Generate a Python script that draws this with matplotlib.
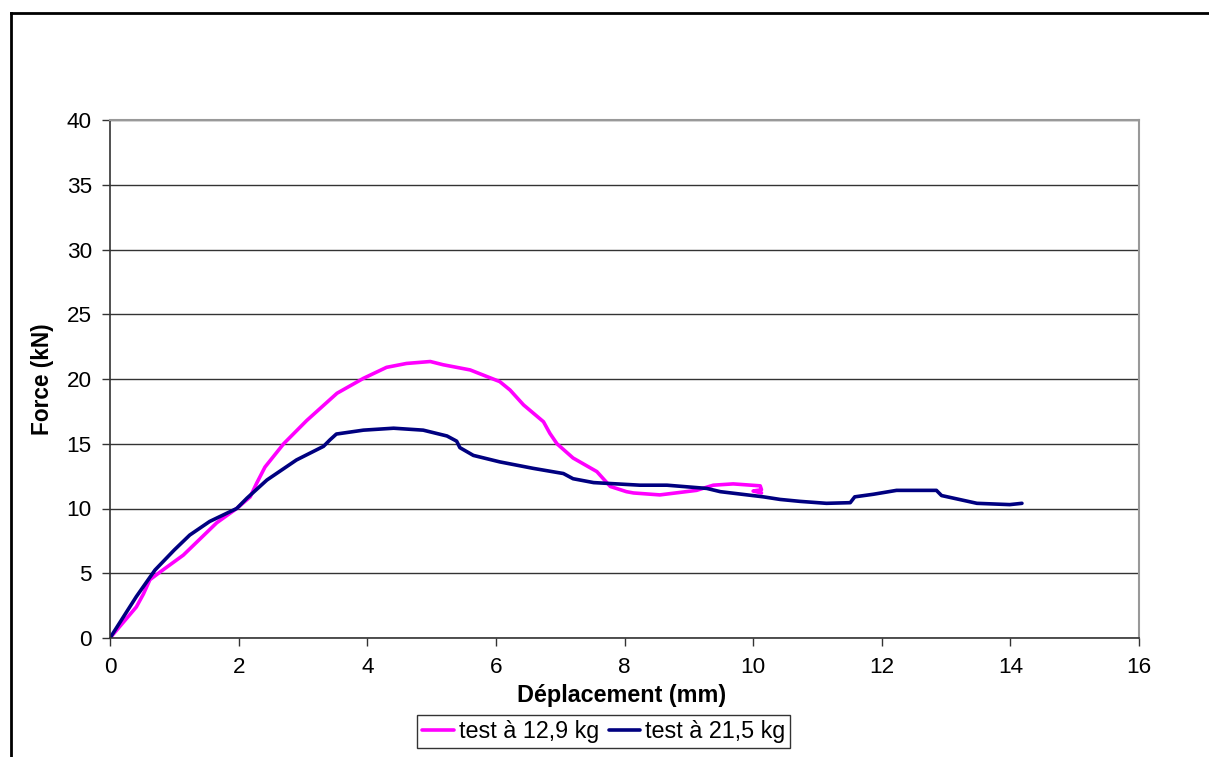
import matplotlib
matplotlib.use("Agg")
import matplotlib.pyplot as plt
from matplotlib.lines import Line2D

plt.rcParams['font.family'] = ['Liberation Sans', 'DejaVu Sans']

# Series: test à 12,9 kg
x_129 = [0.0, 0.41, 0.52, 0.62, 0.78, 1.14, 1.66, 1.97, 2.18, 2.28, 2.41, 2.70, 3.06, 3.53,
         3.94, 4.30, 4.61, 4.98, 5.18, 5.60, 6.06, 6.22, 6.43, 6.74, 6.84, 6.95, 7.20, 7.57,
         7.67, 7.78, 8.03, 8.14, 8.55, 9.12, 9.38, 9.69, 10.11, 10.13, 10.00, 10.13]
y_129 = [0.0, 2.4, 3.4, 4.5, 5.1, 6.4, 8.9, 10.0, 10.9, 11.95, 13.2, 15.0, 16.8, 18.9,
         20.05, 20.9, 21.2, 21.35, 21.1, 20.7, 19.8, 19.15, 18.0, 16.7, 15.8, 15.0, 13.9, 12.85,
         12.3, 11.7, 11.3, 11.2, 11.05, 11.4, 11.8, 11.9, 11.75, 11.45, 11.35, 11.2]

# Series: test à 21,5 kg
x_215 = [0.0, 0.41, 0.70, 1.00, 1.24, 1.55, 1.97, 2.13, 2.44, 2.90, 3.32, 3.42, 3.52, 3.94,
         4.41, 4.87, 5.24, 5.39, 5.44, 5.65, 6.06, 6.58, 7.05, 7.20, 7.52, 8.24, 8.66, 9.28,
         9.49, 10.16, 10.42, 10.73, 11.14, 11.51, 11.58, 11.87, 12.23, 12.85, 12.93, 13.48,
         13.99, 14.18]
y_215 = [0.0, 3.2, 5.25, 6.8, 7.95, 9.0, 10.0, 10.8, 12.2, 13.75, 14.8, 15.3, 15.75, 16.05,
         16.2, 16.05, 15.6, 15.2, 14.7, 14.1, 13.6, 13.1, 12.7, 12.3, 12.0, 11.8, 11.8, 11.55,
         11.3, 10.9, 10.7, 10.55, 10.4, 10.45, 10.9, 11.1, 11.4, 11.4, 11.0, 10.4,
         10.3, 10.4]

labels = ['test à 12,9 kg', 'test à 21,5 kg']
x_ticks = [0, 2, 4, 6, 8, 10, 12, 14, 16]
y_ticks = [0, 5, 10, 15, 20, 25, 30, 35, 40]

W, H = 1209, 757
fig = plt.figure(figsize=(W / 100, H / 100), dpi=100)
ax = fig.add_axes([110 / W, 1 - 638 / H, (1139 - 110) / W, (638 - 120) / H])

ax.plot(x_129, y_129, color='#FF00FF', lw=2.6, label=labels[0],
        solid_capstyle='round', solid_joinstyle='round')
ax.plot(x_215, y_215, color='#000080', lw=2.6, label=labels[1],
        solid_capstyle='round', solid_joinstyle='round')

ax.set_xlim(0, 16)
ax.set_ylim(0, 40)
ax.set_xticks(x_ticks)
ax.set_yticks(y_ticks)
ax.yaxis.grid(True, color='#333333', lw=1.0)
ax.set_axisbelow(True)
ax.tick_params(axis='both', direction='out', length=6, width=1, color='#333333',
               labelsize=16.2)
ax.tick_params(axis='x', pad=8)
ax.tick_params(axis='y', pad=7)
for s in ['top', 'right']:
    ax.spines[s].set_color('#999999')
    ax.spines[s].set_linewidth(1.5)
for s in ['left', 'bottom']:
    ax.spines[s].set_color('#333333')
    ax.spines[s].set_linewidth(1.2)

ax.set_xlabel('Déplacement (mm)', fontsize=16.8, fontweight='bold')
ax.xaxis.set_label_coords((622 - 110) / 1029, -(684 - 638) / 518)
ax.set_ylabel('Force (kN)', fontsize=16.3, fontweight='bold')
ax.yaxis.set_label_coords(-(110 - 54) / 1029, 0.5)

leg = ax.legend(loc='upper left', bbox_to_anchor=(417 / W, 1 - 715 / H),
                bbox_transform=fig.transFigure, ncol=2, fontsize=16.8,
                frameon=True, fancybox=False, edgecolor='black', borderpad=0.22,
                handlelength=1.36, handletextpad=0.2, columnspacing=0.42, borderaxespad=0)
leg.get_frame().set_linewidth(1.0)
for h in leg.get_lines():
    h.set_linewidth(2.6)

# outer chart border (left & top visible)
fig.add_artist(Line2D([11 / W, 11 / W], [0, 1 - 13 / H], transform=fig.transFigure,
                      color='black', lw=2))
fig.add_artist(Line2D([11 / W, 1], [1 - 13 / H, 1 - 13 / H], transform=fig.transFigure,
                      color='black', lw=2))

fig.savefig('out.png', dpi=100)
